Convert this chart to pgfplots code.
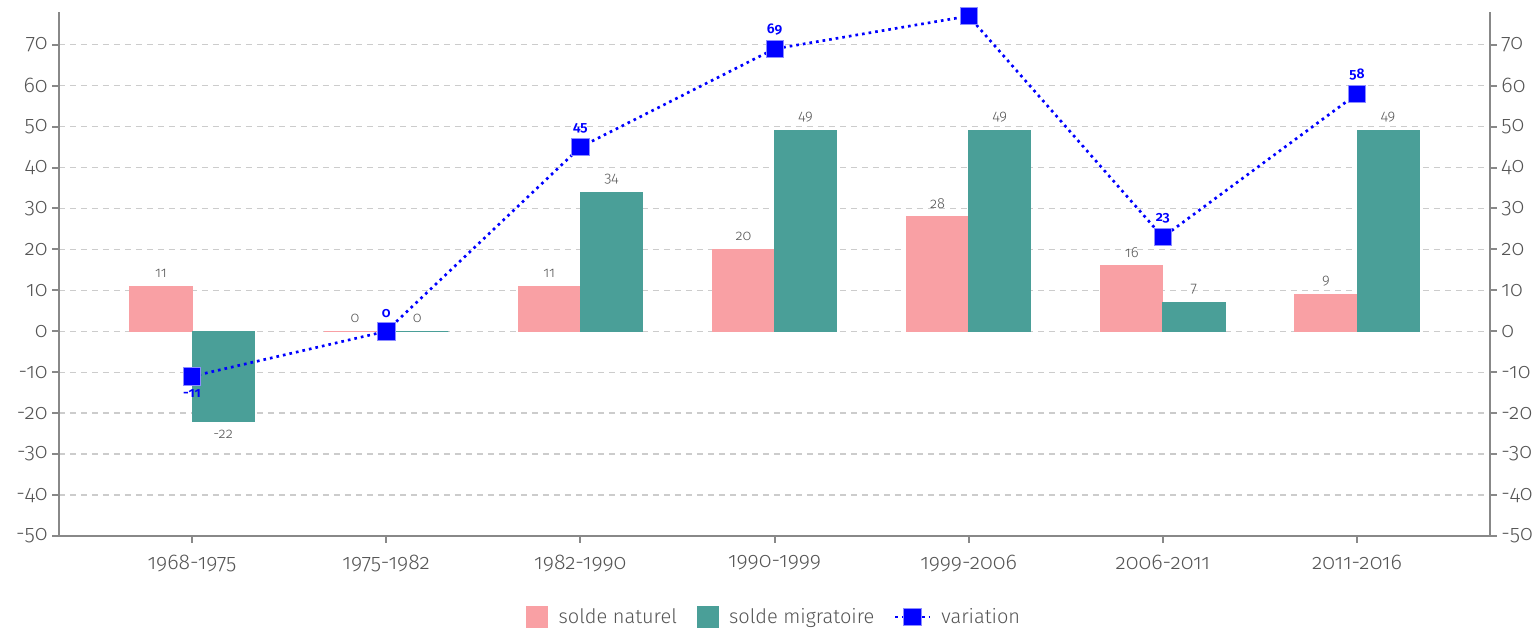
\documentclass[border=0pt]{standalone}
\usepackage{fontspec}
\setmainfont{Fira Sans}[UprightFont=* Light, BoldFont=* SemiBold, Numbers=OldStyle]
\usepackage{pgfplots}
\pgfplotsset{compat=1.18}
\usepackage{pgfplotstable}
\usetikzlibrary{calc}

\definecolor{naturel}{HTML}{F9A0A4}
\definecolor{migr}{HTML}{4A9F98}
\definecolor{axisgrey}{HTML}{888888}
\definecolor{gridgrey}{HTML}{CCCCCC}
\definecolor{txtgrey}{HTML}{555555}

% soldes naturel / migratoire et variation par periode
\pgfplotstableread{
x nat mig var
0 11 -22 -11
1 0 0 0
2 11 34 45
3 20 49 69
4 28 49 77
5 16 7 23
6 9 49 58
}\soldes

\pgfplotsset{
  commun/.style={
    scale only axis, width=1073.25pt, height=393pt,
    xmin=-0.685, xmax=6.685, ymin=-50, ymax=78,
    ytick={-50,-40,...,70},
    axis line style={axisgrey, line width=1.5pt, -},
    tick style={axisgrey, line width=1.5pt},
    tick align=outside, major tick length=5pt,
    ticklabel style={font=\fontsize{16}{18}\selectfont, text=txtgrey},
    /pgf/number format/assume math mode=true,
  },
  varlegend/.style={
    legend image code/.code={
      \draw[##1, mark repeat=2, mark phase=2] plot coordinates {(0pt,0pt) (12.75pt,0pt) (25.5pt,0pt)};}
  },
  barlabel/.style={
    nodes near coords,
    every node near coord/.append style={font=\fontsize{11}{13}\selectfont, text=txtgrey,
      inner ysep=6pt, xshift=#1}
  },
}

\begin{document}
\begin{tikzpicture}
\begin{axis}[
  commun, name=main,
  axis x line*=bottom, axis y line*=left,
  xtick={0,...,6},
  xticklabels={1968-1975,1975-1982,1982-1990,1990-1999,1999-2006,2006-2011,2011-2016},
  xticklabel style={yshift=-6pt},
  ymajorgrids,
  grid style={gridgrey, line width=1.1pt, dash pattern=on 4.5pt off 3.75pt},
  legend columns=3,
  legend style={draw=none, at={(0.5,0)}, anchor=center, yshift=-60.75pt,
    font=\fontsize{15}{17}\selectfont, text=txtgrey,
    /tikz/every odd column/.append style={column sep=6pt},
    /tikz/every even column/.append style={column sep=12.75pt}},
  nodes near coords align=vertical,
]
\addplot[ybar, bar width=0.32, bar shift=-0.16, fill=naturel, draw=naturel, line width=0.6pt,
  barlabel=-23.3pt,
  legend image code/.code={\fill[naturel] (0pt,-7.9pt) rectangle (15.75pt,7.9pt);}]
  table[x=x, y=nat] {\soldes};
\addlegendentry{solde naturel}
\addplot[ybar, bar width=0.32, bar shift=0.16, fill=migr, draw=migr, line width=0.6pt,
  barlabel=23.3pt,
  legend image code/.code={\fill[migr] (0pt,-7.9pt) rectangle (15.75pt,7.9pt);}]
  table[x=x, y=mig] {\soldes};
\addlegendentry{solde migratoire}
\addplot[blue, line width=2pt, dash pattern=on 2pt off 3pt,
  mark=square*, mark size=6.5pt,
  mark options={solid, fill=blue, draw=blue!45, line width=0.5pt},
  varlegend]
  table[x=x, y=var] {\soldes};
\addlegendentry{variation}
% etiquettes de la variation (la valeur 77 sort du cadre)
\addplot[draw=none, forget plot, skip coords between index={4}{5},
  nodes near coords,
  every node near coord/.append style={font=\bfseries\fontsize{10.5}{12}\selectfont, text=blue, inner ysep=10pt}]
  table[x=x, y=var] {\soldes};
\end{axis}
\begin{axis}[
  commun,
  axis y line*=right, axis x line=none,
]
\end{axis}
\pgfresetboundingbox
\path[use as bounding box] ($(main.south west)+(-44.25pt,-69pt)$) rectangle ($(main.north east)+(32.25pt,9pt)$);
\end{tikzpicture}
\end{document}
